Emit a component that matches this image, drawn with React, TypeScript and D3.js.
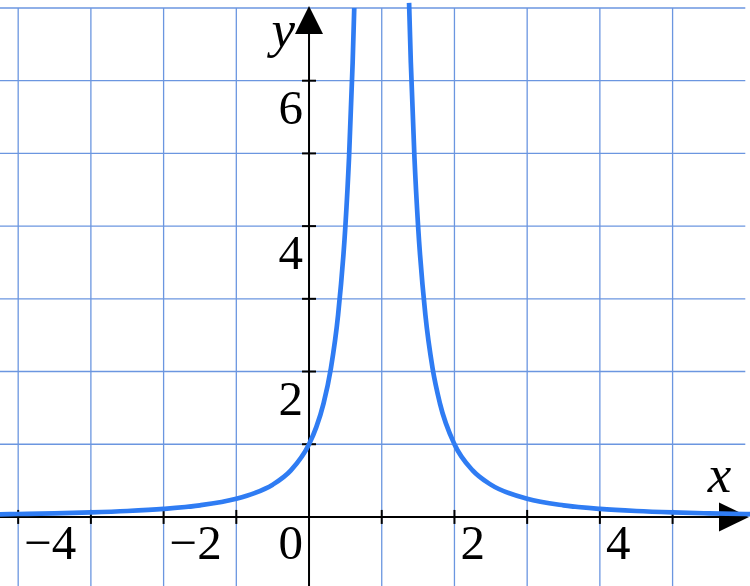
import React from "react";
import * as d3 from "d3";

const leftX = [-4.25, -4, -3.5, -3, -2.5, -2, -1.5, -1, -0.75, -0.5, -0.25, 0, 0.1, 0.2, 0.3, 0.4, 0.5, 0.55, 0.6, 0.622];
const leftY = [0.0363, 0.04, 0.0494, 0.0625, 0.0816, 0.111, 0.16, 0.25, 0.327, 0.444, 0.64, 1, 1.235, 1.5625, 2.04, 2.78, 4, 4.94, 6.25, 7.0];
const rightX = [1.376, 1.4, 1.45, 1.5, 1.6, 1.7, 1.8, 2, 2.25, 2.5, 3, 3.5, 4, 4.5, 5, 5.5, 6, 6.07];
const rightY = [7.07, 6.25, 4.94, 4, 2.78, 2.04, 1.5625, 1, 0.64, 0.444, 0.25, 0.16, 0.111, 0.0816, 0.0625, 0.0494, 0.04, 0.0392];

const xGrid = [-4, -3, -2, -1, 0, 1, 2, 3, 4, 5];
const yGrid = [1, 2, 3, 4, 5, 6, 7];
const xTicks = [-4, -3, -2, -1, 1, 2, 3, 4, 5];
const yTicks = [1, 2, 3, 4, 5, 6];
const xTickLabels = [-4, -2, 0, 2, 4];
const xTickAnchors = ["start", "start", "end", "start", "start"];
const yTickLabels = [2, 4, 6];

const W = 750;
const H = 586;

export default function App() {
  const x = d3.scaleLinear().domain([-4.25, 6]).range([0, 745.3]);
  const y = d3.scaleLinear().domain([-0.95, 7]).range([586, 8]);

  const line = d3
    .line<[number, number]>()
    .x((d) => x(d[0]))
    .y((d) => y(d[1]))
    .curve(d3.curveMonotoneX);

  const left: [number, number][] = leftX.map((v, i) => [v, leftY[i]]);
  const right: [number, number][] = rightX.map((v, i) => [v, rightY[i]]);

  const x0 = x(0);
  const y0 = y(0);
  const gridColor = "#6b96e0";
  const font = "'Liberation Serif', 'DejaVu Serif', serif";
  const fs = 49;
  const minus = "\u2212";
  const fmt = (v: number) => (v < 0 ? minus + Math.abs(v) : String(v));

  return (
    <svg
      width={W}
      height={H}
      style={{ position: "absolute", left: 0, top: 0, background: "#fff" }}
    >
      {/* grid */}
      {xGrid.map((v) => (
        <line key={"gx" + v} x1={x(v)} x2={x(v)} y1={y(7)} y2={H} stroke={gridColor} strokeWidth={1.3} />
      ))}
      {yGrid.map((v) => (
        <line key={"gy" + v} x1={0} x2={x(6)} y1={y(v)} y2={y(v)} stroke={gridColor} strokeWidth={1.3} />
      ))}

      {/* axes */}
      <line x1={0} x2={x(6) - 20} y1={y0} y2={y0} stroke="#000" strokeWidth={2} />
      <line x1={x0} x2={x0} y1={H} y2={y(7) + 20} stroke="#000" strokeWidth={2} />
      <path d={`M${749},${y0} L${719},${y0 - 14.5} L${719},${y0 + 14.5} Z`} fill="#000" />
      <path d={`M${x0},${6} L${x0 - 14},${34} L${x0 + 14},${34} Z`} fill="#000" />

      {/* ticks */}
      {xTicks.map((v) => (
        <line key={"tx" + v} x1={x(v)} x2={x(v)} y1={y0 - 7} y2={y0 + 7} stroke="#000" strokeWidth={2} />
      ))}
      {yTicks.map((v) => (
        <line key={"ty" + v} x1={x0 - 7} x2={x0 + 7} y1={y(v)} y2={y(v)} stroke="#000" strokeWidth={2} />
      ))}

      {/* curve */}
      <path d={line(left) || ""} fill="none" stroke="#2f7cf3" strokeWidth={4.7} />
      <path d={line(right) || ""} fill="none" stroke="#2f7cf3" strokeWidth={4.7} />

      {/* tick labels */}
      {xTickLabels.map((v, i) => (
        <text
          key={"lx" + v}
          x={x(v) + (xTickAnchors[i] === "start" ? 6 : -6)}
          y={y0 + 42}
          textAnchor={xTickAnchors[i] as any}
          fontFamily={font}
          fontSize={fs}
          fill="#000"
        >
          {fmt(v)}
        </text>
      ))}
      {yTickLabels.map((v) => (
        <text
          key={"ly" + v}
          x={x0 - 6}
          y={y(v) + 43}
          textAnchor="end"
          fontFamily={font}
          fontSize={fs}
          fill="#000"
        >
          {v}
        </text>
      ))}

      {/* axis labels */}
      <text x={x(6) - 14} y={492} textAnchor="end" fontFamily={font} fontStyle="italic" fontSize={53} fill="#000">
        x
      </text>
      <text x={x0 - 14} y={47} textAnchor="end" fontFamily={font} fontStyle="italic" fontSize={53} fill="#000">
        y
      </text>
    </svg>
  );
}
